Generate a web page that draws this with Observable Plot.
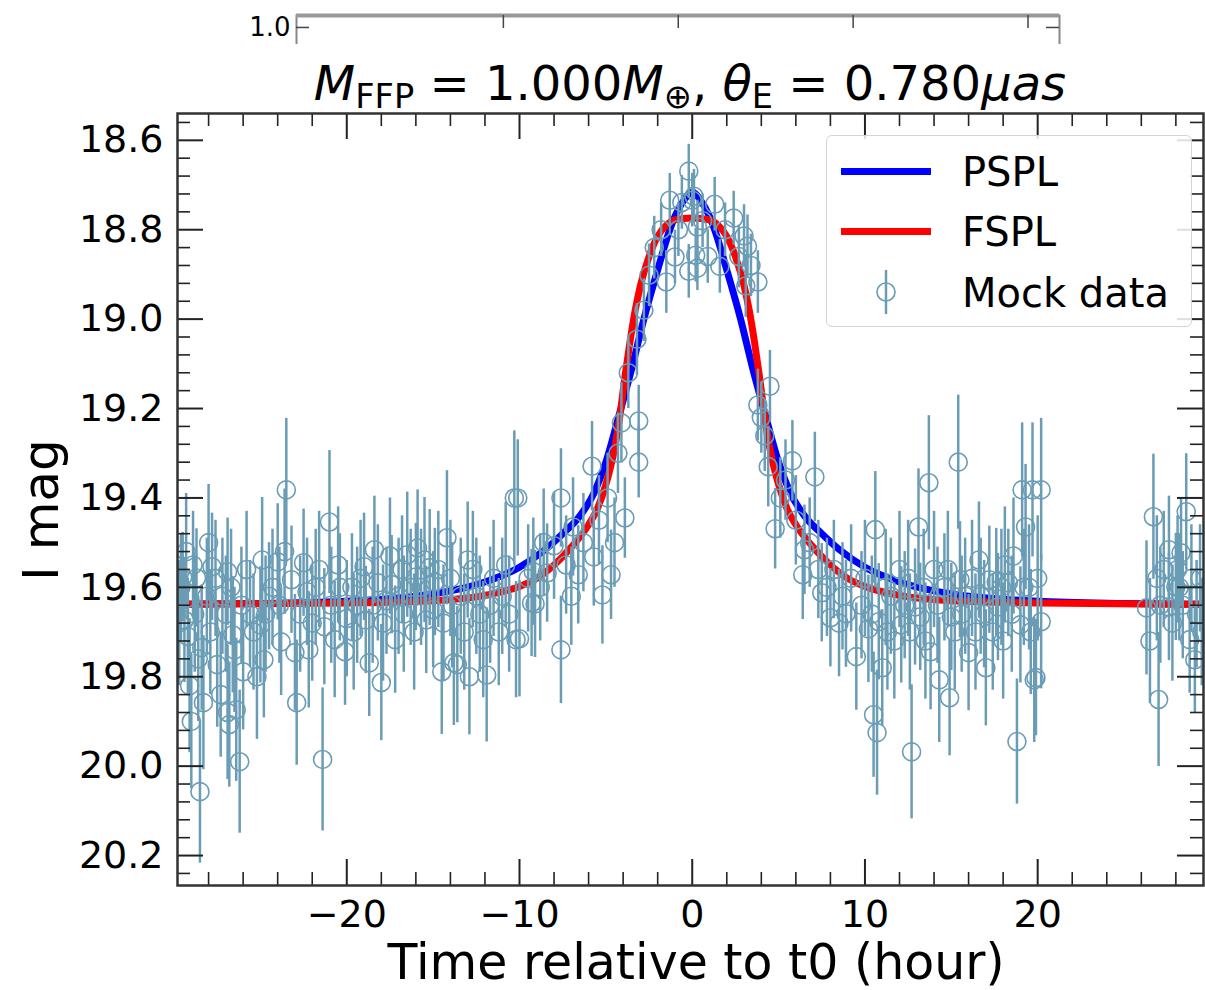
<!DOCTYPE html>
<html><head><meta charset="utf-8">
<script src="https://cdn.jsdelivr.net/npm/d3@7"></script>
<script src="https://cdn.jsdelivr.net/npm/@observablehq/plot@0.6"></script>
<style>
body{margin:0;background:#fff;}
#wrap{position:relative;width:1205px;height:990px;overflow:hidden;font-family:"DejaVu Sans",sans-serif;color:#000;background:#fff;}
#top{position:absolute;left:0;top:0;width:1205px;height:44px;overflow:hidden;}
#chart{position:absolute;left:0;top:0;}
#title{position:absolute;left:190px;width:1000px;top:59px;font-size:48px;line-height:48px;text-align:center;white-space:nowrap;}
#title sub{font-size:70%;vertical-align:baseline;position:relative;top:0.24em;}
#xlabel{position:absolute;left:296px;width:800px;top:938px;font-size:49px;line-height:49px;text-align:center;white-space:nowrap;}
#ylabel{position:absolute;left:-109px;top:480px;width:300px;height:60px;font-size:50px;line-height:60px;text-align:center;transform:rotate(-90deg);white-space:nowrap;}
#legend{position:absolute;left:826px;top:135px;width:364px;height:190px;border:1.5px solid #d4d4d4;border-radius:6px;background:rgba(255,255,255,0.85);}
.lrow{position:absolute;left:135px;font-size:40px;line-height:40px;white-space:nowrap;}
.lline{position:absolute;left:14px;width:90px;height:7px;}
</style></head><body>
<div id="wrap">
  <div id="top"></div>
  <div id="chart"></div>
  <div id="title"><i>M</i><sub>FFP</sub> = 1.000<i>M</i><sub>⊕</sub>, <i>θ</i><sub>E</sub> = 0.780<i>μas</i></div>
  <div id="xlabel">Time relative to t0 (hour)</div>
  <div id="ylabel">I mag</div>
  <div id="legend"></div>
</div>
<script>
// ---------------- data ----------------
const seriesNames = ["PSPL", "FSPL", "Mock data"];
const seriesColors = ["#0000ff", "#ff0000", "#6a9db5"];

const xMajorTicks = [-20, -10, 0, 10, 20];
const xMinorTicks = [-28,-26,-24,-22,-18,-16,-14,-12,-8,-6,-4,-2,2,4,6,8,12,14,16,18,22,24,26,28];
const yMajorTicks = [18.6, 18.8, 19.0, 19.2, 19.4, 19.6, 19.8, 20.0, 20.2];
const yMinorTicks = [18.56,18.64,18.68,18.72,18.76,18.84,18.88,18.92,18.96,19.04,19.08,19.12,19.16,19.24,19.28,19.32,19.36,19.44,19.48,19.52,19.56,19.64,19.68,19.72,19.76,19.84,19.88,19.92,19.96,20.04,20.08,20.12,20.16,20.24];

const xDomain = [-29.8, 29.6];
const yDomain = [18.54, 20.267];

// PSPL model curve
const psplTime = [-29.8,-25,-20,-16,-14,-12,-10,-8.5,-7.5,-6.5,-5.7,-5,-4.2,-3.5,-2.8,-2,-1.3,-1,-0.5,0,0.5,1,1.3,2,2.8,3.5,4.2,5,5.7,6.5,7.5,8.5,10,12,14,16,20,25,29.6];
const psplMag  = [19.638,19.636,19.631,19.62,19.608,19.588,19.555,19.515,19.48,19.44,19.39,19.32,19.21,19.11,19.0,18.89,18.80,18.77,18.735,18.716,18.735,18.77,18.80,18.89,19.0,19.11,19.21,19.32,19.39,19.44,19.48,19.515,19.555,19.588,19.608,19.62,19.631,19.636,19.638];

// FSPL model curve
const fsplTime = [-29.8,-20,-15,-12,-10,-9,-8,-7,-6,-5.5,-5,-4.5,-4.2,-3.9,-3.6,-3.3,-3,-2.5,-2,-1.5,-1,0,1,1.5,2,2.5,3,3.3,3.6,3.9,4.2,4.5,5,5.5,6,7,8,9,10,12,15,20,29.6];
const fsplMag  = [19.638,19.635,19.63,19.618,19.598,19.58,19.55,19.51,19.46,19.425,19.37,19.29,19.22,19.13,19.05,18.98,18.925,18.86,18.815,18.79,18.778,18.774,18.778,18.79,18.815,18.86,18.925,18.98,19.05,19.13,19.22,19.29,19.37,19.425,19.46,19.51,19.55,19.58,19.598,19.618,19.63,19.635,19.638];

// Mock data: [time (hour), I mag, error]
const mockData = [
[-29.7,19.68,0.14],[-29.6,19.60,0.12],[-29.5,19.577,0.10],[-29.4,19.673,0.14],[-29.3,19.52,0.13],
[-29.2,19.71,0.13],[-29.1,19.82,0.15],[-29.0,19.90,0.15],[-28.9,19.55,0.12],[-28.8,19.66,0.13],
[-28.7,19.579,0.11],[-28.6,19.76,0.14],[-28.5,20.057,0.16],[-28.4,19.735,0.14],[-28.3,19.858,0.15],
[-28.1,19.62,0.13],[-28.0,19.50,0.13],[-27.9,19.70,0.14],[-27.8,19.554,0.12],[-27.6,19.58,0.13],
[-27.5,19.773,0.14],[-27.3,19.84,0.14],[-27.2,19.62,0.13],[-27.0,19.66,0.13],[-26.9,19.565,0.12],
[-26.9,19.88,0.15],[-26.8,19.907,0.14],[-26.7,19.60,0.13],[-26.6,19.706,0.13],[-26.5,19.74,0.14],
[-26.4,19.874,0.16],[-26.2,19.99,0.16],[-26.1,19.64,0.13],[-26.0,19.789,0.13],[-25.8,19.56,0.13],
[-25.6,19.66,0.12],[-25.4,19.70,0.13],[-25.2,19.80,0.14],[-25.0,19.684,0.13],[-24.9,19.539,0.14],
[-24.8,19.762,0.13],[-24.7,19.66,0.13],[-24.5,19.62,0.12],[-24.3,19.60,0.13],[-24.0,19.543,0.13],
[-23.9,19.64,0.13],[-23.8,19.722,0.12],[-23.6,19.52,0.14],[-23.5,19.382,0.16],[-23.2,19.583,0.12],
[-23.0,19.746,0.13],[-22.9,19.858,0.14],[-22.7,19.66,0.13],[-22.5,19.545,0.12],[-22.3,19.61,0.12],
[-22.2,19.74,0.13],[-22.0,19.68,0.13],[-21.8,19.60,0.13],[-21.6,19.56,0.13],[-21.4,19.985,0.16],
[-21.3,19.688,0.13],[-21.0,19.454,0.16],[-20.9,19.64,0.13],[-20.7,19.717,0.13],[-20.5,19.55,0.13],
[-20.4,19.60,0.12],[-20.1,19.744,0.12],[-20.0,19.67,0.13],[-19.7,19.60,0.12],[-19.6,19.70,0.13],
[-19.4,19.64,0.13],[-19.2,19.58,0.13],[-19.0,19.554,0.12],[-18.9,19.673,0.12],[-18.7,19.769,0.12],
[-18.5,19.64,0.13],[-18.4,19.516,0.12],[-18.2,19.59,0.13],[-18.0,19.813,0.13],[-17.9,19.68,0.13],
[-17.7,19.63,0.12],[-17.5,19.53,0.13],[-17.4,19.594,0.11],[-17.2,19.717,0.12],[-17.0,19.62,0.13],
[-16.8,19.56,0.12],[-16.7,19.66,0.13],[-16.5,19.527,0.14],[-16.3,19.60,0.13],[-16.1,19.70,0.13],
[-16.0,19.577,0.12],[-15.9,19.512,0.13],[-15.7,19.60,0.13],[-15.5,19.539,0.14],[-15.4,19.673,0.12],
[-15.2,19.556,0.13],[-15.0,19.65,0.13],[-14.9,19.588,0.12],[-14.7,19.56,0.13],[-14.5,19.789,0.14],
[-14.4,19.68,0.13],[-14.2,19.489,0.15],[-14.0,19.58,0.13],[-13.9,19.64,0.14],[-13.8,19.769,0.14],
[-13.6,19.773,0.13],[-13.4,19.62,0.13],[-13.2,19.70,0.13],[-13.0,19.539,0.13],[-12.9,19.80,0.13],
[-12.7,19.56,0.13],[-12.5,19.62,0.13],[-12.3,19.66,0.13],[-12.1,19.717,0.13],[-11.9,19.796,0.15],
[-11.7,19.64,0.13],[-11.5,19.58,0.13],[-11.2,19.70,0.12],[-11.0,19.62,0.13],[-10.8,19.55,0.14],
[-10.6,19.66,0.13],[-10.3,19.40,0.15],[-10.2,19.717,0.13],[-10.1,19.40,0.13],[-10.0,19.715,0.13],
[-9.5,19.58,0.12],[-9.3,19.635,0.12],[-9.2,19.565,0.12],[-9.1,19.637,0.12],[-8.8,19.60,0.12],
[-8.6,19.50,0.12],[-8.4,19.568,0.11],[-8.0,19.507,0.12],[-7.6,19.40,0.11],[-7.6,19.74,0.12],
[-7.3,19.55,0.11],[-7.0,19.62,0.11],[-6.9,19.465,0.11],[-6.6,19.572,0.11],[-6.3,19.50,0.11],
[-5.8,19.329,0.10],[-5.7,19.532,0.11],[-5.4,19.45,0.10],[-5.2,19.617,0.11],[-4.9,19.40,0.10],
[-4.7,19.572,0.10],[-4.5,19.50,0.10],[-4.3,19.30,0.09],[-4.1,19.232,0.09],[-3.9,19.445,0.09],
[-3.7,19.12,0.08],[-3.2,19.045,0.08],[-3.1,19.228,0.08],[-3.1,19.32,0.08],[-2.8,18.98,0.07],
[-2.5,18.902,0.07],[-2.2,18.84,0.07],[-1.8,18.80,0.06],[-1.5,18.917,0.07],[-1.3,18.734,0.06],
[-1.0,18.861,0.06],[-0.8,18.80,0.06],[-0.6,18.739,0.06],[-0.2,18.669,0.06],[-0.2,18.893,0.06],
[0.0,18.734,0.06],[0.1,18.725,0.06],[0.2,18.857,0.06],[0.3,18.794,0.06],[0.3,18.886,0.05],
[0.6,18.78,0.06],[0.9,18.86,0.06],[1.3,18.743,0.06],[1.6,18.882,0.06],[1.9,18.80,0.06],
[2.4,18.774,0.06],[2.7,18.86,0.07],[3.0,18.814,0.07],[3.1,18.926,0.07],[3.2,18.837,0.07],
[3.4,18.88,0.07],[3.8,18.917,0.07],[3.8,19.192,0.08],[4.0,19.22,0.08],[4.2,19.261,0.08],
[4.4,19.33,0.09],[4.5,19.15,0.08],[4.8,19.469,0.09],[5.1,19.40,0.09],[5.4,19.36,0.09],
[5.8,19.317,0.09],[6.0,19.45,0.10],[6.4,19.572,0.10],[6.5,19.516,0.10],[6.8,19.50,0.10],
[7.1,19.353,0.10],[7.3,19.56,0.11],[7.5,19.612,0.11],[7.8,19.60,0.11],[8.0,19.668,0.11],
[8.2,19.56,0.11],[8.5,19.68,0.12],[8.7,19.62,0.12],[8.9,19.659,0.12],[9.2,19.58,0.12],
[9.5,19.755,0.12],[9.8,19.64,0.12],[10.0,19.58,0.13],[10.2,19.693,0.12],[10.4,19.66,0.13],
[10.5,19.885,0.14],[10.6,19.471,0.13],[10.7,19.925,0.14],[10.8,19.677,0.13],[11.0,19.78,0.13],
[11.2,19.60,0.13],[11.3,19.70,0.13],[11.5,19.62,0.13],[11.7,19.72,0.13],[12.0,19.56,0.13],
[12.1,19.684,0.13],[12.3,19.64,0.12],[12.5,19.58,0.13],[12.6,19.70,0.13],[12.7,19.968,0.15],
[12.9,19.644,0.13],[13.1,19.465,0.13],[13.2,19.666,0.12],[13.4,19.60,0.13],[13.5,19.72,0.13],
[13.7,19.366,0.15],[13.8,19.744,0.13],[14.0,19.56,0.13],[14.2,19.64,0.13],[14.3,19.807,0.14],
[14.6,19.60,0.12],[14.8,19.56,0.13],[14.9,19.847,0.13],[15.0,19.666,0.12],[15.2,19.70,0.13],
[15.4,19.32,0.15],[15.5,19.583,0.13],[15.6,19.66,0.13],[15.8,19.62,0.13],[16.0,19.746,0.13],
[16.2,19.58,0.13],[16.4,19.70,0.13],[16.6,19.539,0.13],[16.7,19.62,0.13],[16.9,19.66,0.12],
[17.0,19.78,0.13],[17.2,19.583,0.12],[17.4,19.70,0.13],[17.6,19.588,0.12],[17.7,19.644,0.12],
[17.9,19.60,0.13],[18.0,19.72,0.13],[18.1,19.55,0.13],[18.3,19.59,0.12],[18.5,19.66,0.13],
[18.6,19.53,0.13],[18.8,19.945,0.14],[19.0,19.684,0.13],[19.1,19.382,0.15],[19.2,19.60,0.13],
[19.3,19.465,0.14],[19.5,19.60,0.14],[19.6,19.70,0.14],[19.7,19.382,0.15],[19.8,19.807,0.14],
[19.9,19.802,0.13],[20.0,19.58,0.14],[20.2,19.382,0.16],[20.2,19.677,0.15],
[26.3,19.646,0.15],[26.5,19.72,0.14],[26.7,19.442,0.14],[26.9,19.58,0.14],[27.0,19.851,0.15],
[27.1,19.64,0.13],[27.3,19.56,0.13],[27.6,19.516,0.12],[27.6,19.644,0.12],[27.8,19.68,0.13],
[28.0,19.599,0.12],[28.1,19.56,0.12],[28.2,19.60,0.12],[28.3,19.523,0.12],[28.4,19.64,0.12],
[28.6,19.431,0.13],[28.8,19.717,0.12],[28.9,19.58,0.12],[29.1,19.762,0.12],[29.2,19.66,0.12],
[29.4,19.58,0.12],[29.5,19.70,0.12]
];

// Cropped fragment of the panel above (tick label)
const topPanelYTicks = [1.0];
const topPanelXTicks = [1, 2, 3, 4];

// ---------------- build ----------------
const pspl = psplTime.map((t, i) => ({t, m: psplMag[i]}));
const fspl = fsplTime.map((t, i) => ({t, m: fsplMag[i]}));
const mock = mockData.map(([t, m, e]) => ({t, m, e}));

const W = 1205, H = 990, mL = 177, mR = 2, mT = 113, mB = 105;
const fw = W - mL - mR, fh = H - mT - mB;
const major = 26, minor = 13, tickColor = "#222";

const chart = Plot.plot({
  width: W, height: H,
  marginLeft: mL, marginRight: mR, marginTop: mT, marginBottom: mB,
  style: {fontFamily: "DejaVu Sans, sans-serif", background: "transparent", color: "#000"},
  x: {domain: xDomain},
  y: {domain: yDomain, reverse: true},
  marks: [
    Plot.line(pspl, {x: "t", y: "m", stroke: seriesColors[0], strokeWidth: 7, curve: "monotone-x", clip: true}),
    Plot.line(fspl, {x: "t", y: "m", stroke: seriesColors[1], strokeWidth: 7, curve: "monotone-x", clip: true}),
    Plot.ruleX(mock, {x: "t", y1: d => d.m - d.e, y2: d => d.m + d.e, stroke: seriesColors[2], strokeWidth: 2.5, clip: true}),
    Plot.dot(mock, {x: "t", y: "m", r: 9, stroke: seriesColors[2], strokeWidth: 1.6, fill: "none", clip: true}),
    // inward ticks on all four sides
    Plot.tickX(xMajorTicks, {x: d => d, insetTop: fh - major, stroke: tickColor, strokeWidth: 2}),
    Plot.tickX(xMajorTicks, {x: d => d, insetBottom: fh - major, stroke: tickColor, strokeWidth: 2}),
    Plot.tickX(xMinorTicks, {x: d => d, insetTop: fh - minor, stroke: tickColor, strokeWidth: 1.6}),
    Plot.tickX(xMinorTicks, {x: d => d, insetBottom: fh - minor, stroke: tickColor, strokeWidth: 1.6}),
    Plot.tickY(yMajorTicks, {y: d => d, insetRight: fw - major, stroke: tickColor, strokeWidth: 2}),
    Plot.tickY(yMajorTicks, {y: d => d, insetLeft: fw - major, stroke: tickColor, strokeWidth: 2}),
    Plot.tickY(yMinorTicks, {y: d => d, insetRight: fw - minor, stroke: tickColor, strokeWidth: 1.6}),
    Plot.tickY(yMinorTicks, {y: d => d, insetLeft: fw - minor, stroke: tickColor, strokeWidth: 1.6}),
    Plot.frame({stroke: "#333", strokeWidth: 2.5}),
    Plot.axisX(xMajorTicks, {tickSize: 0, tickPadding: 15, tickFormat: d3.format("d"), fontSize: 38, label: null}),
    Plot.axisY(yMajorTicks, {tickSize: 0, tickPadding: 14, tickFormat: d3.format(".1f"), fontSize: 38, label: null})
  ]
});
document.getElementById("chart").appendChild(chart);

// fragment of the panel above (cropped at the top of the figure)
const topPlot = Plot.plot({
  width: W, height: 120,
  marginLeft: 296, marginRight: 146, marginTop: 15, marginBottom: 5,
  style: {fontFamily: "DejaVu Sans, sans-serif", background: "transparent", color: "#000"},
  x: {domain: [-0.183, 4.18], axis: null},
  y: {domain: [0, 1.136], axis: null},
  marks: [
    Plot.frame({stroke: "#888", strokeWidth: 2}),
    Plot.ruleY([1.136], {stroke: "#999", strokeWidth: 4}),
    Plot.tickX(topPanelXTicks, {x: d => d, insetBottom: 100 - 13, stroke: "#444", strokeWidth: 1.5}),
    Plot.tickY(topPanelYTicks, {y: d => d, insetRight: (W - 296 - 146) - 13, stroke: "#444", strokeWidth: 1.5}),
    Plot.tickY(topPanelYTicks, {y: d => d, insetLeft: (W - 296 - 146) - 13, stroke: "#444", strokeWidth: 1.5}),
    Plot.axisY(topPanelYTicks, {tickSize: 0, tickPadding: 6, tickFormat: d3.format(".1f"), fontSize: 26, label: null})
  ]
});
document.getElementById("top").appendChild(topPlot);

// legend
const legend = document.getElementById("legend");
const rowsY = [35, 95, 156];   // centres relative to legend box
seriesNames.forEach((name, i) => {
  const txt = document.createElement("div");
  txt.className = "lrow";
  txt.style.top = (rowsY[i] - 19) + "px";
  txt.textContent = name;
  legend.appendChild(txt);
  if (i < 2) {
    const ln = document.createElement("div");
    ln.className = "lline";
    ln.style.top = (rowsY[i] - 3.5) + "px";
    ln.style.background = seriesColors[i];
    legend.appendChild(ln);
  } else {
    const svgNS = "http://www.w3.org/2000/svg";
    const s = document.createElementNS(svgNS, "svg");
    s.setAttribute("width", 30); s.setAttribute("height", 50);
    s.style.position = "absolute"; s.style.left = "44px"; s.style.top = (rowsY[i] - 25) + "px";
    const l = document.createElementNS(svgNS, "line");
    l.setAttribute("x1", 15); l.setAttribute("x2", 15); l.setAttribute("y1", 3); l.setAttribute("y2", 47);
    l.setAttribute("stroke", seriesColors[2]); l.setAttribute("stroke-width", 2.5);
    const c = document.createElementNS(svgNS, "circle");
    c.setAttribute("cx", 15); c.setAttribute("cy", 25); c.setAttribute("r", 9);
    c.setAttribute("fill", "none"); c.setAttribute("stroke", seriesColors[2]); c.setAttribute("stroke-width", 1.6);
    s.appendChild(l); s.appendChild(c);
    legend.appendChild(s);
  }
});
</script>
</body></html>
